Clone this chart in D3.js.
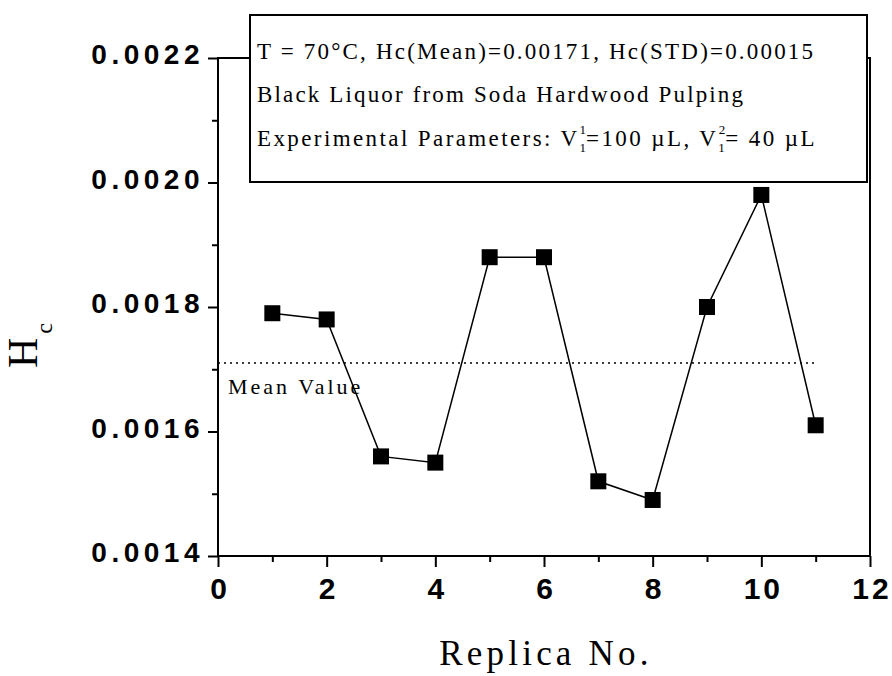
<!DOCTYPE html>
<html>
<head>
<meta charset="utf-8">
<script src="https://cdn.jsdelivr.net/npm/d3@7"></script>
<style>
  body { margin: 0; background: #fff; }
  svg { display: block; }
</style>
</head>
<body>
<div id="chart"></div>
<script>
// chart data
var replicaNo = [1, 2, 3, 4, 5, 6, 7, 8, 9, 10, 11];
var hcValues = [0.00179, 0.00178, 0.00156, 0.00155, 0.00188, 0.00188, 0.00152, 0.00149, 0.00180, 0.00198, 0.00161];
var meanHc = 0.00171;
var meanRange = [0, 11];
var xTicks = [0, 2, 4, 6, 8, 10, 12];
var xMinorTicks = [1, 3, 5, 7, 9, 11];
var yTicks = [0.0014, 0.0016, 0.0018, 0.0020, 0.0022];
var yMinorTicks = [0.0015, 0.0017, 0.0019, 0.0021];

const width = 892;
const height = 676;
const plotLeft = 218, plotRight = 870, plotTop = 58, plotBottom = 556;

var svg = d3.select('#chart')
    .append('svg')
        .attr('width', width)
        .attr('height', height);

var x = d3.scaleLinear().domain([0, 12]).range([plotLeft, plotRight]);
var y = d3.scaleLinear().domain([0.0014, 0.0022]).range([plotBottom, plotTop]);

var sans = 'Liberation Sans, Arial, sans-serif';
var serif = 'Liberation Serif, Times New Roman, serif';

// frame
svg.append('rect')
    .attr('x', plotLeft)
    .attr('y', plotTop)
    .attr('width', plotRight - plotLeft)
    .attr('height', plotBottom - plotTop)
    .attr('fill', 'none')
    .attr('stroke', '#000')
    .attr('stroke-width', 2);

// x axis
var gx = svg.append('g')
    .attr('transform', `translate(0,${plotBottom})`)
    .call(d3.axisBottom(x).tickValues(xTicks).tickSize(11).tickPadding(11));
svg.append('g')
    .attr('transform', `translate(0,${plotBottom})`)
    .call(d3.axisBottom(x).tickValues(xMinorTicks).tickSize(6).tickFormat(''));

// y axis
var gy = svg.append('g')
    .attr('transform', `translate(${plotLeft},0)`)
    .call(d3.axisLeft(y).tickValues(yTicks).tickSize(10).tickPadding(4).tickFormat(d3.format('.4f')));
svg.append('g')
    .attr('transform', `translate(${plotLeft},0)`)
    .call(d3.axisLeft(y).tickValues(yMinorTicks).tickSize(6).tickFormat(''));

svg.selectAll('.domain').remove();
svg.selectAll('.tick line').attr('stroke', '#000').attr('stroke-width', 2);

gx.selectAll('text')
    .attr('font-family', sans)
    .attr('font-weight', 'bold')
    .attr('font-size', 30)
    .attr('letter-spacing', 3)
    .attr('dx', 1.5)
    .attr('fill', '#000');

gy.selectAll('text')
    .attr('font-family', sans)
    .attr('font-weight', 'bold')
    .attr('font-size', 28)
    .attr('letter-spacing', 4.5)
    .attr('dy', '0.21em')
    .attr('fill', '#000');

// mean line
svg.append('line')
    .attr('x1', x(meanRange[0]))
    .attr('x2', x(meanRange[1]))
    .attr('y1', y(meanHc))
    .attr('y2', y(meanHc))
    .attr('stroke', '#000')
    .attr('stroke-width', 1.5)
    .attr('stroke-dasharray', '2,4');

svg.append('text')
    .text('Mean Value')
    .attr('x', x(0) + 10)
    .attr('y', y(meanHc) + 31)
    .attr('font-family', serif)
    .attr('font-size', 22)
    .attr('letter-spacing', 3);

// data line and markers
var line = d3.line()
    .x((d, i) => x(replicaNo[i]))
    .y(d => y(d));

svg.append('path')
    .datum(hcValues)
    .attr('d', line)
    .attr('fill', 'none')
    .attr('stroke', '#000')
    .attr('stroke-width', 1.5);

svg.selectAll('.marker')
    .data(hcValues)
    .enter()
    .append('rect')
        .attr('class', 'marker')
        .attr('x', (d, i) => x(replicaNo[i]) - 8)
        .attr('y', d => y(d) - 8)
        .attr('width', 16)
        .attr('height', 16)
        .attr('fill', '#000');

// legend box
var legend = svg.append('g');
legend.append('rect')
    .attr('x', 250)
    .attr('y', 15)
    .attr('width', 617)
    .attr('height', 167)
    .attr('fill', '#fff')
    .attr('stroke', '#000')
    .attr('stroke-width', 2);

legend.append('text')
    .attr('x', 257)
    .attr('y', 59)
    .attr('font-family', serif)
    .attr('font-size', 23)
    .attr('textLength', 556)
    .attr('lengthAdjust', 'spacing')
    .text('T = 70°C, Hc(Mean)=0.00171, Hc(STD)=0.00015');

legend.append('text')
    .attr('x', 257)
    .attr('y', 102)
    .attr('font-family', serif)
    .attr('font-size', 23)
    .attr('textLength', 486)
    .attr('lengthAdjust', 'spacing')
    .text('Black Liquor from Soda Hardwood Pulping');

var t3 = legend.append('text')
    .attr('x', 257)
    .attr('y', 146)
    .attr('font-family', serif)
    .attr('font-size', 23)
    .attr('letter-spacing', 2.4);
t3.append('tspan').text('Experimental Parameters: V');
t3.append('tspan').attr('font-size', 13).attr('letter-spacing', 0).attr('dy', 6).text('1');
t3.append('tspan').attr('font-size', 13).attr('letter-spacing', 0).attr('dx', -6).attr('dy', -18).text('1');
t3.append('tspan').attr('dy', 12).text('=100 µL, V');
t3.append('tspan').attr('font-size', 13).attr('letter-spacing', 0).attr('dy', 6).text('1');
t3.append('tspan').attr('font-size', 13).attr('letter-spacing', 0).attr('dx', -6).attr('dy', -18).text('2');
t3.append('tspan').attr('dy', 12).text('= 40 µL');

// axis titles
svg.append('text')
    .text('Replica No.')
    .attr('x', (plotLeft + plotRight) / 2 + 2)
    .attr('y', 665)
    .attr('text-anchor', 'middle')
    .attr('font-family', serif)
    .attr('font-size', 35)
    .attr('letter-spacing', 4.2);

var yTitle = svg.append('text')
    .attr('transform', 'translate(37, 368) rotate(-90)')
    .attr('font-family', serif)
    .attr('font-size', 42);
yTitle.append('tspan').text('H');
yTitle.append('tspan').attr('font-size', 24).attr('dy', 15).attr('dx', 4).text('c');
</script>
</body>
</html>
